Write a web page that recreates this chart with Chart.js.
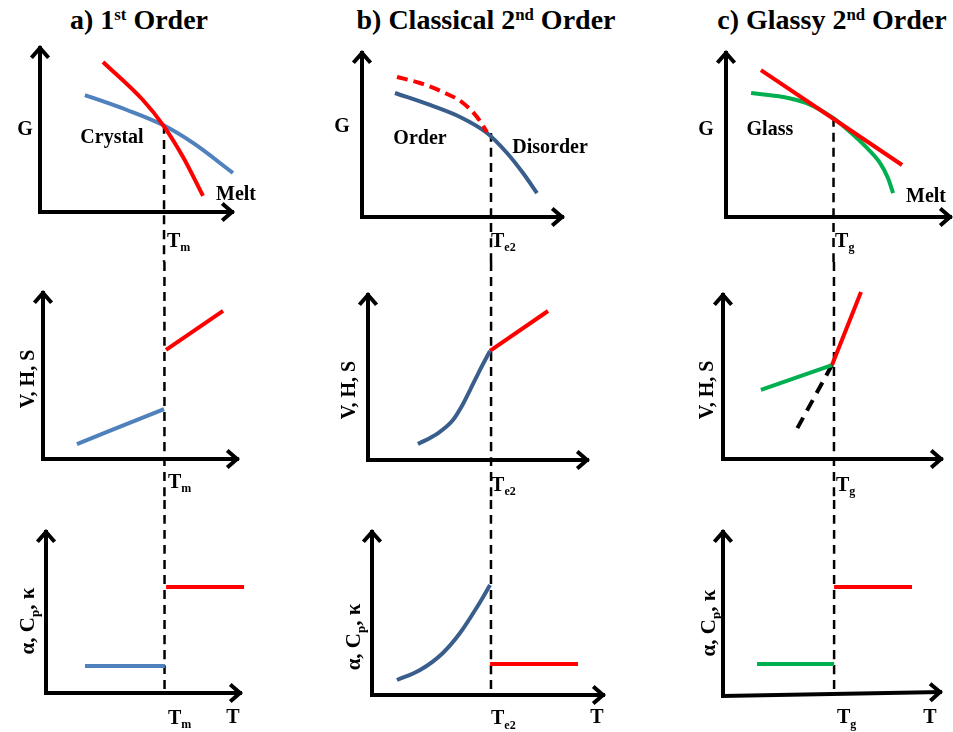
<!DOCTYPE html>
<html>
<head>
<meta charset="utf-8">
<script src="https://cdn.jsdelivr.net/npm/chart.js@4.4.1/dist/chart.umd.min.js"></script>
<style>
  body { margin: 0; background: #fff; }
  #page { position: relative; width: 953px; height: 732px; overflow: hidden; font-family: "Liberation Serif", "Times New Roman", serif; }
  .title { position: absolute; top: 6px; width: 320px; text-align: center; font-weight: bold; font-size: 28px; line-height: 28px; white-space: nowrap; }
  .title sup { font-size: 0.6em; line-height: 0; vertical-align: 0.55em; }
  canvas { position: absolute; }
</style>
</head>
<body>
<div id="page">
  <div class="title" style="left:-21px">a) 1<sup>st</sup> Order</div>
  <div class="title" style="left:326px">b) Classical 2<sup>nd</sup> Order</div>
  <div class="title" style="left:672px">c) Glassy 2<sup>nd</sup> Order</div>
</div>
<script>
// ---- data (temperature on x, property on y, axes run 0..10) ----

// a) 1st order
const A_T_G_MELT = [3.28, 5.36, 6.41, 7.45, 8.49];
const A_G_MELT = [9.15, 6.83, 5.30, 3.35, 0.98];
const A_T_G_CRYSTAL = [2.34, 4.53, 6.41, 7.97, 10.05];
const A_G_CRYSTAL = [7.13, 6.22, 5.30, 4.21, 2.38];
const A_T_V_CRYSTAL = [1.75, 6.24];
const A_V_CRYSTAL = [0.90, 3.01];
const A_T_V_MELT = [6.34, 9.28];
const A_V_MELT = [6.57, 8.92];
const A_T_CP_CRYSTAL = [2.01, 6.13];
const A_CP_CRYSTAL = [1.68, 1.68];
const A_T_CP_MELT = [6.19, 10.21];
const A_CP_MELT = [6.58, 6.58];
const A_TM = [6.46, 6.26, 6.11];
const A_G_AT_TM = 5.30;

// b) classical 2nd order
const B_T_G_ORDER = [1.65, 3.40, 4.90, 6.25, 7.25, 8.05, 8.75];
const B_G_ORDER = [7.56, 6.83, 6.10, 5.12, 3.90, 2.68, 1.46];
const B_T_G_META = [1.75, 2.90, 4.05, 5.05, 5.75, 6.25];
const B_G_META = [8.54, 8.17, 7.62, 6.95, 6.10, 5.18];
const B_T_V_ORDER = [2.28, 3.15, 3.88, 4.30, 4.66, 5.11, 5.57];
const B_V_ORDER = [0.97, 1.58, 2.42, 3.30, 4.24, 5.45, 6.61];
const B_T_V_DIS = [5.57, 8.22];
const B_V_DIS = [6.61, 9.03];
const B_T_CP_ORDER = [1.08, 2.08, 3.07, 3.81, 4.55, 5.11];
const B_CP_ORDER = [0.92, 1.53, 2.58, 3.80, 5.40, 6.75];
const B_T_CP_DIS = [5.11, 8.92];
const B_CP_DIS = [1.90, 1.90];
const B_TE2 = [6.45, 5.62, 5.15];
const B_G_AT_TE2 = 5.12;

// c) glassy 2nd order
const C_T_G_MELT = [1.56, 7.86];
const C_G_MELT = [8.96, 3.17];
const C_T_G_GLASS = [1.12, 2.54, 3.57, 4.78, 5.54, 6.25, 6.88, 7.23, 7.46];
const C_G_GLASS = [7.56, 7.32, 6.95, 6.04, 5.18, 4.27, 3.29, 2.38, 1.46];
const C_T_V_GLASS = [1.74, 5.00];
const C_V_GLASS = [4.21, 5.73];
const C_T_V_MELT = [5.00, 6.33];
const C_V_MELT = [5.73, 10.18];
const C_T_V_EXTRAP = [5.00, 3.39];
const C_V_EXTRAP = [5.73, 1.83];
const C_T_CP_GLASS = [1.57, 5.12];
const C_CP_GLASS = [1.95, 1.95];
const C_T_CP_MELT = [5.12, 8.71];
const C_CP_MELT = [6.65, 6.65];
const C_TG = [4.80, 5.09, 5.12];
const C_G_AT_TG = 6.04;

// ---- layout ----
const COLS = [{ left: 0, width: 320 }, { left: 320, width: 316 }, { left: 636, width: 317 }];
const ROWS = [{ top: 40, height: 222 }, { top: 262, height: 238 }, { top: 500, height: 232 }];

const RED = '#ff0000';
const BLUE_A = '#4f81bd';
const BLUE_B = '#3a5e8c';
const GREEN = '#00b050';

function pts(xs, ys) {
    return xs.map((x, i) => ({ x: x, y: ys[i] }));
}

function curve(xs, ys, color, extra = {}) {
    return Object.assign({
        data: pts(xs, ys),
        borderColor: color,
        borderWidth: 4,
        pointRadius: 0,
        fill: false,
        clip: false,
        cubicInterpolationMode: 'monotone'
    }, extra);
}

function transition(t, yFrom, yTo) {
    return curve([t, t], [yFrom, yTo], '#000', { borderWidth: 2.5, borderDash: [9, 6] });
}

const tLabel = (sub) => [['T'], [sub, 1]];
const VHS = [['V, H, S']];
const ACK = [['α, C'], ['p', 1], [', κ']];

// panel: column, row, axis origin / arrow tips in page px, series, labels
const panels = [
    {
        col: 0, row: 0, geo: [40, 212, 232, 48],
        series: (y) => [
            curve(A_T_G_MELT, A_G_MELT, RED),
            curve(A_T_G_CRYSTAL, A_G_CRYSTAL, BLUE_A),
            transition(A_TM[0], A_G_AT_TM, y.min)
        ],
        labels: [
            { segs: [['G']], x: -0.78, y: 5.12 },
            { segs: [['Crystal']], x: 3.75, y: 4.63 },
            { segs: [['Melt']], x: 10.21, y: 1.16 },
            { segs: tLabel('m'), x: 6.61, y: -1.71, align: 'left' }
        ]
    },
    {
        col: 0, row: 1, geo: [43, 459, 237, 293],
        series: (y) => [
            curve(A_T_V_CRYSTAL, A_V_CRYSTAL, BLUE_A),
            curve(A_T_V_MELT, A_V_MELT, RED),
            transition(A_TM[1], y.max, y.min)
        ],
        labels: [
            { segs: VHS, x: -0.82, y: 4.82, rot: true },
            { segs: tLabel('m'), x: 6.44, y: -1.33, align: 'left' }
        ]
    },
    {
        col: 0, row: 2, geo: [46, 693, 240, 532],
        series: (y) => [
            curve(A_T_CP_CRYSTAL, A_CP_CRYSTAL, BLUE_A),
            curve(A_T_CP_MELT, A_CP_MELT, RED),
            transition(A_TM[2], y.max, 0)
        ],
        labels: [
            { segs: ACK, x: -0.98, y: 4.47, rot: true, size: 21 },
            { segs: tLabel('m'), x: 6.29, y: -1.50, align: 'left' },
            { segs: [['T']], x: 9.64, y: -1.43 }
        ]
    },
    {
        col: 1, row: 0, geo: [362, 217, 562, 53],
        series: (y) => [
            curve(B_T_G_META, B_G_META, RED, { borderDash: [11, 6] }),
            curve(B_T_G_ORDER, B_G_ORDER, BLUE_B),
            transition(B_TE2[0], B_G_AT_TE2, y.min)
        ],
        labels: [
            { segs: [['G']], x: -1.0, y: 5.61 },
            { segs: [['Order']], x: 2.9, y: 4.88 },
            { segs: [['Disorder']], x: 9.4, y: 4.33 },
            { segs: tLabel('e2'), x: 6.45, y: -1.40, align: 'left' }
        ]
    },
    {
        col: 1, row: 1, geo: [368, 460, 587, 295],
        series: (y) => [
            curve(B_T_V_ORDER, B_V_ORDER, BLUE_B),
            curve(B_T_V_DIS, B_V_DIS, RED),
            transition(B_TE2[1], y.max, y.min)
        ],
        labels: [
            { segs: VHS, x: -0.91, y: 4.24, rot: true },
            { segs: tLabel('e2'), x: 5.62, y: -1.45, align: 'left' }
        ]
    },
    {
        col: 1, row: 2, geo: [372, 695, 603, 532],
        series: (y) => [
            curve(B_T_CP_ORDER, B_CP_ORDER, BLUE_B),
            curve(B_T_CP_DIS, B_CP_DIS, RED),
            transition(B_TE2[2], y.max, 0)
        ],
        labels: [
            { segs: ACK, x: -0.82, y: 3.56, rot: true, size: 21 },
            { segs: tLabel('e2'), x: 5.15, y: -1.38, align: 'left' },
            { segs: [['T']], x: 9.74, y: -1.29 }
        ]
    },
    {
        col: 2, row: 0, geo: [726, 217, 950, 53],
        series: (y) => [
            curve(C_T_G_MELT, C_G_MELT, RED),
            curve(C_T_G_GLASS, C_G_GLASS, GREEN),
            transition(C_TG[0], C_G_AT_TG, y.min)
        ],
        labels: [
            { segs: [['G']], x: -0.89, y: 5.43 },
            { segs: [['Glass']], x: 1.96, y: 5.43 },
            { segs: [['Melt']], x: 8.93, y: 1.34 },
            { segs: tLabel('g'), x: 4.87, y: -1.40, align: 'left' }
        ]
    },
    {
        col: 2, row: 1, geo: [723, 459, 941, 295],
        series: (y) => [
            curve(C_T_V_MELT, C_V_MELT, RED),
            curve(C_T_V_GLASS, C_V_GLASS, GREEN),
            curve(C_T_V_EXTRAP, C_V_EXTRAP, '#000', { borderDash: [12, 8] }),
            transition(C_TG[1], y.max, y.min)
        ],
        labels: [
            { segs: VHS, x: -0.78, y: 4.21, rot: true },
            { segs: tLabel('g'), x: 5.18, y: -1.52, align: 'left' }
        ]
    },
    {
        col: 2, row: 2, geo: [723, 696, 940, 532], rise: 0.24,
        series: (y) => [
            curve(C_T_CP_GLASS, C_CP_GLASS, GREEN),
            curve(C_T_CP_MELT, C_CP_MELT, RED),
            transition(C_TG[2], y.max, 0.1)
        ],
        labels: [
            { segs: ACK, x: -0.69, y: 4.45, rot: true, size: 21 },
            { segs: tLabel('g'), x: 5.25, y: -1.25, align: 'left' },
            { segs: [['T']], x: 9.54, y: -1.22 }
        ]
    }
];

const specs = {};

function arrowHead(ctx, tx, ty, ang) {
    const L = 13, a = 0.72;
    ctx.beginPath();
    ctx.moveTo(tx - L * Math.cos(ang - a), ty - L * Math.sin(ang - a));
    ctx.lineTo(tx, ty);
    ctx.lineTo(tx - L * Math.cos(ang + a), ty - L * Math.sin(ang + a));
    ctx.stroke();
}

function drawRich(ctx, segs, size, align) {
    const big = `bold ${size}px "Liberation Serif"`;
    const small = `bold ${Math.round(size * 0.62)}px "Liberation Serif"`;
    let total = 0;
    const widths = segs.map(s => {
        ctx.font = s[1] ? small : big;
        const w = ctx.measureText(s[0]).width;
        total += w;
        return w;
    });
    let cx = align === 'left' ? 0 : -total / 2;
    const base = size * 0.34;
    segs.forEach((s, i) => {
        ctx.font = s[1] ? small : big;
        ctx.fillText(s[0], cx, s[1] ? base + size * 0.22 : base);
        cx += widths[i];
    });
}

// axis arrows + text annotations
const schematic = {
    id: 'schematic',
    beforeDatasetsDraw(chart) {
        const spec = specs[chart.canvas.id];
        const { ctx } = chart;
        const { x, y } = chart.scales;
        const x0 = x.getPixelForValue(0), y0 = y.getPixelForValue(0);
        const xt = x.getPixelForValue(10), yt = y.getPixelForValue(10);
        const yr = y.getPixelForValue(spec.rise || 0);
        ctx.save();
        ctx.strokeStyle = '#000';
        ctx.lineWidth = 4;
        ctx.lineCap = 'square';
        ctx.lineJoin = 'miter';
        ctx.beginPath();
        ctx.moveTo(x0, yt);
        ctx.lineTo(x0, y0);
        ctx.lineTo(xt, yr);
        ctx.stroke();
        ctx.lineCap = 'butt';
        arrowHead(ctx, x0, yt, -Math.PI / 2);
        arrowHead(ctx, xt, yr, Math.atan2(yr - y0, xt - x0));
        ctx.restore();
    },
    afterDatasetsDraw(chart) {
        const spec = specs[chart.canvas.id];
        const { ctx } = chart;
        const { x, y } = chart.scales;
        ctx.save();
        ctx.fillStyle = '#000';
        ctx.textBaseline = 'alphabetic';
        spec.labels.forEach(l => {
            ctx.save();
            ctx.translate(x.getPixelForValue(l.x), y.getPixelForValue(l.y));
            if (l.rot) ctx.rotate(-Math.PI / 2);
            drawRich(ctx, l.segs, l.size || 20, l.align);
            ctx.restore();
        });
        ctx.restore();
    }
};

Chart.register(schematic);

const page = document.getElementById('page');

panels.forEach((p, i) => {
    const col = COLS[p.col], row = ROWS[p.row];
    const [ox, oy, xt, yt] = p.geo;
    const canvas = document.createElement('canvas');
    canvas.id = 'panel' + i;
    canvas.width = col.width;
    canvas.height = row.height;
    canvas.style.left = col.left + 'px';
    canvas.style.top = row.top + 'px';
    page.appendChild(canvas);
    specs[canvas.id] = p;

    const xRange = {
        min: (col.left - ox) / (xt - ox) * 10,
        max: (col.left + col.width - ox) / (xt - ox) * 10
    };
    const yRange = {
        min: (oy - (row.top + row.height)) / (oy - yt) * 10,
        max: (oy - row.top) / (oy - yt) * 10
    };

    new Chart(canvas.getContext('2d'), {
        type: 'line',
        data: { datasets: p.series(yRange) },
        options: {
            responsive: false,
            animation: false,
            layout: { padding: 0 },
            scales: {
                x: { type: 'linear', display: false, min: xRange.min, max: xRange.max },
                y: { type: 'linear', display: false, min: yRange.min, max: yRange.max }
            },
            plugins: {
                legend: { display: false },
                tooltip: { enabled: false }
            }
        }
    });
});
</script>
</body>
</html>
